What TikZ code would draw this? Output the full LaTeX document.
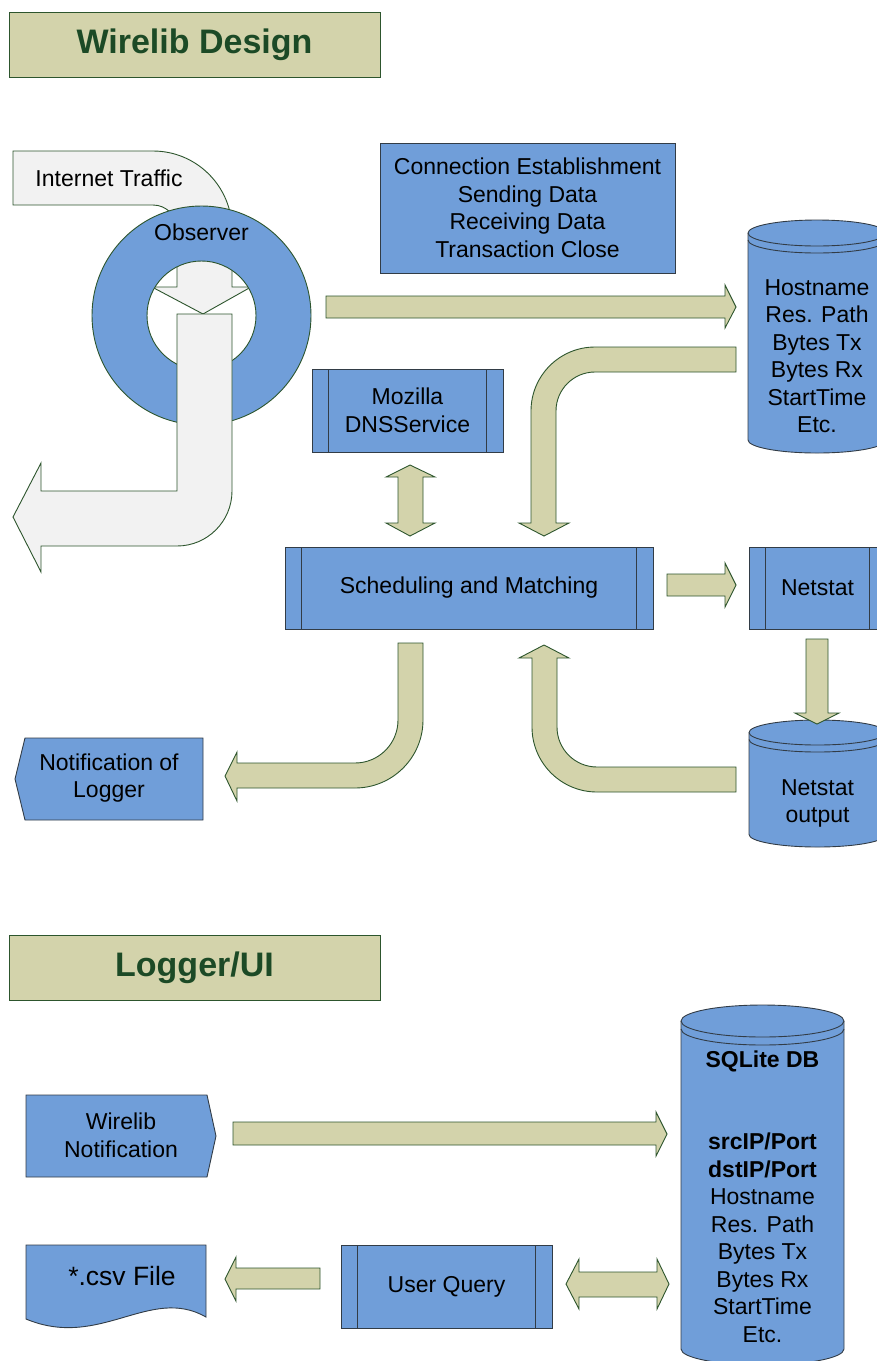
\documentclass[tikz,border=0pt]{standalone}
\usepackage{fontspec}
\setmainfont{Liberation Sans}

\definecolor{boxblue}{RGB}{112,158,217}
\definecolor{khaki}{RGB}{211,211,171}
\definecolor{edgegreen}{RGB}{45,85,45}
\definecolor{headgreen}{RGB}{28,74,38}
\definecolor{trafficgray}{RGB}{242,242,242}
\definecolor{boxedge}{RGB}{50,60,70}

\tikzset{
  headbox/.style={draw=edgegreen, fill=khaki, line width=1pt, minimum width=371pt, minimum height=65pt,
    font=\fontsize{34}{40}\selectfont\bfseries, text=headgreen},
  bluebox/.style={draw=boxedge, fill=boxblue, line width=0.9pt, inner sep=0pt, align=center,
    font=\fontsize{23}{27.5}\selectfont},
  procbox/.style={bluebox, path picture={
    \draw[boxedge, line width=0.9pt]
      ([xshift=16.5pt]path picture bounding box.north west) -- ([xshift=16.5pt]path picture bounding box.south west)
      ([xshift=-16.5pt]path picture bounding box.north east) -- ([xshift=-16.5pt]path picture bounding box.south east);}},
  plaintext/.style={align=center, inner sep=0pt, font=\fontsize{23}{27.5}\selectfont},
  blockarrow/.style={draw=edgegreen, fill=khaki, line width=0.9pt, line join=miter},
  grayarrow/.style={draw=edgegreen, fill=trafficgray, line width=0.9pt, line join=miter},
  diskbody/.style={draw=boxedge, fill=boxblue, line width=0.9pt}
}

\begin{document}
\begin{tikzpicture}[x=1pt, y=-1pt]
  \useasboundingbox (0,0) rectangle (877,1361);

  \node[headbox] (wirelibhead) at (194.5,44.5) {Wirelib Design};
  \node[headbox] (loggerhead) at (194.5,967.5) {Logger/UI};

  \draw[grayarrow] (13,151) -- (153,151) arc[start angle=-90, end angle=0, radius=79] -- (232,287) -- (251,287) -- (203,314) -- (152,287) -- (177,287) -- (177,229) arc[start angle=0, end angle=-90, radius=24] -- (13,205) -- cycle;
  \draw[fill=boxblue, draw=edgegreen, line width=0.9pt, even odd rule] (201.5,315.5) circle[radius=109.5] circle[radius=54.5];
  \draw[grayarrow] (177,314) -- (232,314) -- (232,491) arc[start angle=0, end angle=90, radius=55] -- (41,546) -- (41,572) -- (13,517) -- (41,463) -- (41,491) -- (177,491) -- cycle;
  \node[plaintext] (traffic) at (109,178) {Internet Traffic};
  \node[plaintext] (observer) at (201.5,232) {Observer};

  \node[bluebox, minimum width=295pt, minimum height=130pt] (phases) at (527.5,208) {Connection Establishment\\Sending Data\\Receiving Data\\Transaction Close};
  \node[procbox, minimum width=191pt, minimum height=83pt] (dns) at (407.5,410.5) {Mozilla\\DNSService};
  \node[procbox, minimum width=368pt, minimum height=82pt] (sched) at (469,588) {Scheduling and Matching};
  \node[procbox, minimum width=137pt, minimum height=82pt] (netstat) at (817.5,588) {Netstat};
  \node[procbox, minimum width=211pt, minimum height=83pt] (query) at (446.5,1286.5) {User Query};

  \draw[diskbody] (748,233) -- (748,440) arc[start angle=180, end angle=0, x radius=69, y radius=13] -- (886,233) arc[start angle=0, end angle=-180, x radius=69, y radius=13] -- cycle;
  \draw[diskbody, fill=none] (748,233) arc[start angle=180, end angle=0, x radius=69, y radius=13];
  \draw[diskbody, fill=none] (748,240) arc[start angle=180, end angle=0, x radius=69, y radius=13];
  \node[plaintext] (flowfields) at (817,356) {Hostname\\Res. Path\\Bytes Tx\\Bytes Rx\\StartTime\\Etc.};

  \draw[diskbody] (749,732.5) -- (749,834.5) arc[start angle=180, end angle=0, x radius=68.5, y radius=12.5] -- (886,732.5) arc[start angle=0, end angle=-180, x radius=68.5, y radius=12.5] -- cycle;
  \draw[diskbody, fill=none] (749,732.5) arc[start angle=180, end angle=0, x radius=68.5, y radius=12.5];
  \draw[diskbody, fill=none] (749,739.5) arc[start angle=180, end angle=0, x radius=68.5, y radius=12.5];
  \node[plaintext] (netstatout) at (817.5,803.5) {Netstat\\output};

  \draw[diskbody] (681,1021) -- (681,1349) arc[start angle=180, end angle=0, x radius=81.5, y radius=16] -- (844,1021) arc[start angle=0, end angle=-180, x radius=81.5, y radius=16] -- cycle;
  \draw[diskbody, fill=none] (681,1021) arc[start angle=180, end angle=0, x radius=81.5, y radius=16];
  \draw[diskbody, fill=none] (681,1029) arc[start angle=180, end angle=0, x radius=81.5, y radius=16];
  \node[plaintext] (sqlitedb) at (762.5,1196.5) {\textbf{SQLite DB}\\[55pt]\textbf{srcIP/Port}\\\textbf{dstIP/Port}\\Hostname\\Res. Path\\Bytes Tx\\Bytes Rx\\StartTime\\Etc.};

  \draw[bluebox] (25,738) -- (203,738) -- (203,820) -- (25,820) -- (15,779) -- cycle;
  \node[plaintext] (notify) at (109,778) {Notification of\\Logger};
  \draw[bluebox] (26,1095) -- (207,1095) -- (216,1136) -- (207,1177) -- (26,1177) -- cycle;
  \node[plaintext] (wirenote) at (121,1135.5) {Wirelib\\Notification};
  \draw[bluebox] (26,1245) -- (206,1245) -- (206,1317) .. controls (150,1285) and (100,1350) .. (26,1319) -- cycle;
  \node[plaintext, font=\fontsize{26.5}{30}\selectfont] (csvfile) at (122,1276) {*.csv File};

  \draw[blockarrow] (326,296) -- (725,296) -- (725,285) -- (736,307) -- (725,328) -- (725,318) -- (326,318) -- cycle;
  \draw[blockarrow] (736,347) -- (595,347) arc[start angle=270, end angle=180, radius=64] -- (531,523) -- (519,523) -- (544,536) -- (569,523) -- (556,523) -- (556,411) arc[start angle=180, end angle=270, radius=39] -- (736,372) -- cycle;
  \draw[blockarrow] (398,477) -- (386,477) -- (410,465) -- (435,477) -- (423,477) -- (423,523) -- (435,523) -- (410,536) -- (386,523) -- (398,523) -- cycle;
  \draw[blockarrow] (667,574) -- (725,574) -- (725,563) -- (736,585) -- (725,607) -- (725,596) -- (667,596) -- cycle;
  \draw[blockarrow] (806,639) -- (828,639) -- (828,713) -- (839,713) -- (817,724) -- (795,713) -- (806,713) -- cycle;
  \draw[blockarrow] (736,767) -- (597,767) arc[start angle=90, end angle=180, radius=40] -- (557,658) -- (569,658) -- (544,645) -- (519,658) -- (532,658) -- (532,727) arc[start angle=180, end angle=90, radius=65] -- (736,792) -- cycle;
  \draw[blockarrow] (398,643) -- (423,643) -- (423,720) arc[start angle=0, end angle=90, radius=68] -- (237,788) -- (237,801) -- (225,776) -- (237,752) -- (237,763) -- (355,763) arc[start angle=90, end angle=0, radius=43] -- cycle;

  \draw[blockarrow] (233,1122) -- (656,1122) -- (656,1112) -- (667,1134) -- (656,1156) -- (656,1145) -- (233,1145) -- cycle;
  \draw[blockarrow] (320,1268) -- (236,1268) -- (236,1257) -- (225,1279) -- (236,1301) -- (236,1289) -- (320,1289) -- cycle;
  \draw[blockarrow] (579,1272) -- (657,1272) -- (657,1259) -- (669,1284) -- (657,1309) -- (657,1297) -- (579,1297) -- (579,1309) -- (566,1284) -- (579,1259) -- cycle;
\end{tikzpicture}
\end{document}
